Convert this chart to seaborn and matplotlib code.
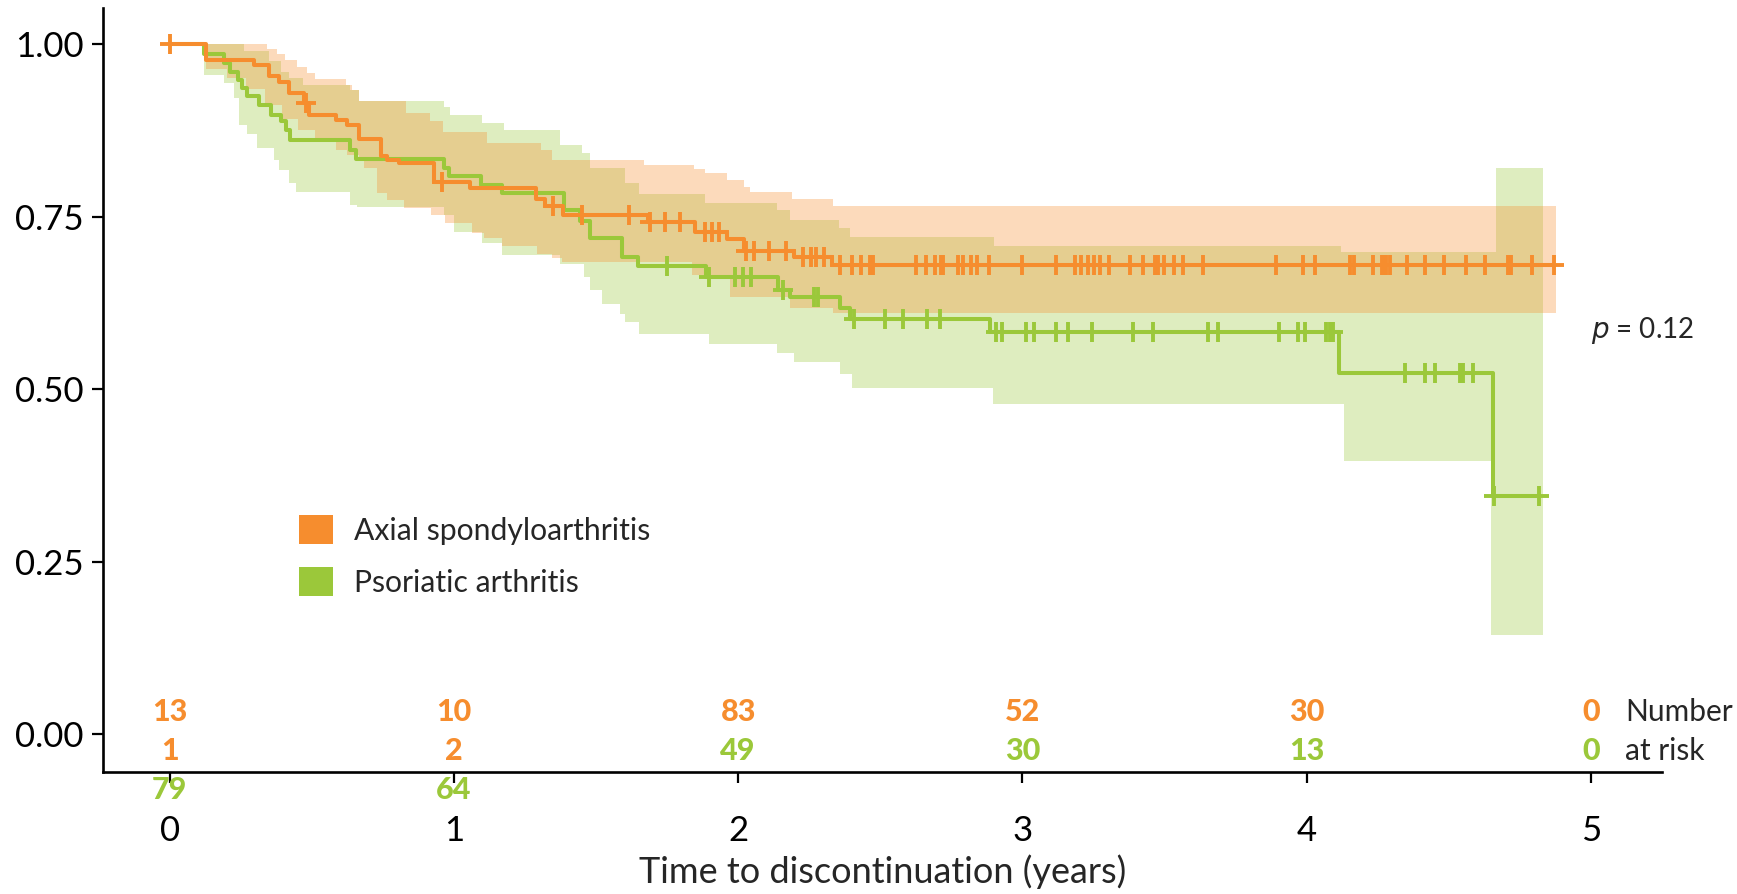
import numpy as np
import pandas as pd
import matplotlib
matplotlib.use("Agg")
import matplotlib.pyplot as plt
from matplotlib.patches import Patch
import seaborn as sns

# ---------------- data ----------------
GROUPS = ["Axial spondyloarthritis", "Psoriatic arthritis"]

# Kaplan-Meier steps (time in years, survival)
AX_T = [0, 0.127, 0.297, 0.349, 0.384, 0.42, 0.472, 0.49, 0.584, 0.625, 0.666, 0.742, 0.765,
        0.806, 0.929, 1.058, 1.29, 1.32, 1.385, 1.683, 1.85, 1.962, 2.02, 2.195, 2.331]
AX_S = [1.0, 0.976, 0.970, 0.953, 0.945, 0.929, 0.915, 0.897, 0.89, 0.883, 0.863, 0.837, 0.832,
        0.827, 0.80, 0.791, 0.775, 0.765, 0.752, 0.742, 0.727, 0.718, 0.70, 0.692, 0.68]
AX_END = 4.872

PS_T = [0, 0.121, 0.191, 0.214, 0.24, 0.255, 0.273, 0.314, 0.355, 0.39, 0.408, 0.425, 0.636,
        0.654, 0.965, 0.982, 1.094, 1.17, 1.387, 1.445, 1.48, 1.592, 1.647, 1.888, 2.142, 2.182,
        2.357, 2.392, 2.887, 4.115, 4.655]
PS_S = [1.0, 0.986, 0.972, 0.96, 0.948, 0.936, 0.924, 0.912, 0.897, 0.888, 0.875, 0.861, 0.847,
        0.834, 0.82, 0.809, 0.796, 0.784, 0.76, 0.743, 0.719, 0.692, 0.678, 0.663, 0.644, 0.634,
        0.617, 0.601, 0.583, 0.524, 0.345]
PS_END = 4.819

# confidence bands (step functions)
AX_UP_T = [0, 0.343, 0.378, 0.407, 0.448, 0.482, 0.513, 0.619, 0.64, 0.666, 0.83, 0.917, 0.96,
           1.117, 1.305, 1.345, 1.668, 1.844, 1.885, 1.961, 2.02, 2.043, 2.19, 2.335]
AX_UP_S = [1.0, 0.993, 0.986, 0.977, 0.967, 0.958, 0.949, 0.941, 0.933, 0.918, 0.90, 0.888, 0.873,
           0.856, 0.847, 0.832, 0.825, 0.819, 0.813, 0.803, 0.793, 0.785, 0.775, 0.766]
AX_LO_T = [0, 0.127, 0.2, 0.27, 0.334, 0.394, 0.45, 0.513, 0.584, 0.625, 0.666, 0.683, 0.73,
           0.765, 0.824, 0.92, 0.97, 1.064, 1.105, 1.17, 1.293, 1.345, 1.381, 1.838, 1.97, 2.182, 2.335]
AX_LO_S = [1.0, 0.963, 0.95, 0.935, 0.912, 0.891, 0.875, 0.858, 0.846, 0.839, 0.83, 0.82, 0.784,
           0.774, 0.762, 0.752, 0.74, 0.726, 0.719, 0.707, 0.696, 0.69, 0.684, 0.666, 0.634, 0.618, 0.611]
AX_BAND_END = 4.878

PS_UP_T = [0, 0.26, 0.35, 0.39, 0.42, 0.47, 0.636, 0.665, 0.965, 0.988, 1.099, 1.175, 1.375,
           1.451, 1.48, 1.603, 1.65, 1.883, 2.135, 2.182, 2.355, 2.395, 2.90, 4.12, 4.668]
PS_UP_S = [1.0, 0.99, 0.975, 0.96, 0.95, 0.94, 0.933, 0.918, 0.909, 0.897, 0.885, 0.875, 0.854,
           0.842, 0.82, 0.798, 0.782, 0.770, 0.759, 0.745, 0.733, 0.721, 0.707, 0.699, 0.82]
PS_LO_T = [0, 0.121, 0.191, 0.226, 0.244, 0.273, 0.306, 0.367, 0.384, 0.42, 0.443, 0.636, 0.66,
           0.965, 1.0, 1.099, 1.17, 1.375, 1.457, 1.48, 1.52, 1.586, 1.603, 1.65, 1.896, 2.135,
           2.195, 2.357, 2.401, 2.896, 4.13, 4.65]
PS_LO_S = [1.0, 0.955, 0.943, 0.921, 0.883, 0.87, 0.849, 0.832, 0.818, 0.798, 0.786, 0.767, 0.764,
           0.752, 0.728, 0.711, 0.694, 0.682, 0.663, 0.644, 0.623, 0.609, 0.598, 0.58, 0.566, 0.552,
           0.539, 0.522, 0.502, 0.478, 0.396, 0.144]
PS_BAND_END = 4.833

# censoring times
AX_CENS = [0.0, 0.478, 0.958, 1.35, 1.45, 1.617, 1.69, 1.743, 1.796, 1.883, 1.909, 1.932, 2.029,
           2.056, 2.109, 2.169, 2.228, 2.255, 2.275, 2.301, 2.357, 2.401, 2.434, 2.464, 2.474,
           2.627, 2.66, 2.694, 2.714, 2.72, 2.774, 2.79, 2.82, 2.84, 2.884, 3.0, 3.12, 3.186,
           3.208, 3.232, 3.252, 3.272, 3.305, 3.378, 3.425, 3.465, 3.478, 3.498, 3.532, 3.565,
           3.634, 3.891, 3.987, 4.029, 4.154, 4.167, 4.233, 4.266, 4.273, 4.279, 4.293, 4.352,
           4.418, 4.483, 4.562, 4.628, 4.707, 4.72, 4.793, 4.872]
PS_CENS = [1.75, 1.896, 1.989, 2.016, 2.046, 2.158, 2.268, 2.282, 2.408, 2.517, 2.581, 2.663,
           2.711, 2.907, 2.927, 3.013, 3.04, 3.12, 3.16, 3.246, 3.39, 3.458, 3.654, 3.687, 3.904,
           3.97, 3.996, 4.069, 4.082, 4.092, 4.345, 4.418, 4.451, 4.54, 4.549, 4.585, 4.661, 4.819]

# number at risk
RISK_TIMES = [0, 1, 2, 3, 4, 5]
AX_RISK = [131, 102, 83, 52, 30, 0]
PS_RISK = [79, 64, 49, 30, 13, 0]

Y_TICKS = [0.0, 0.25, 0.5, 0.75, 1.0]
X_TICKS = [0, 1, 2, 3, 4, 5]
P_TEXT = "0.12"

ORANGE = "#F68D2E"
GREEN = "#9BC83A"

# ---------------- style ----------------
sns.set_theme(style="ticks")
plt.rcParams["font.family"] = ["Lato", "DejaVu Sans"]

fig = plt.figure(figsize=(17.37, 8.94), dpi=100)
ax = fig.add_axes([0.0593, 0.1364, 0.8973, 0.8544])


def step_value(T, S, t):
    i = np.searchsorted(np.asarray(T), np.asarray(t), side="right") - 1
    return np.asarray(S)[i]


def band(T_up, S_up, T_lo, S_lo, end, color):
    grid = np.unique(np.concatenate([T_up, T_lo, [end]]))
    up = step_value(T_up, S_up, grid)
    lo = step_value(T_lo, S_lo, grid)
    ax.fill_between(grid, lo, up, step="post", color=color, alpha=0.32, linewidth=0)


band(PS_UP_T, PS_UP_S, PS_LO_T, PS_LO_S, PS_BAND_END, GREEN)
band(AX_UP_T, AX_UP_S, AX_LO_T, AX_LO_S, AX_BAND_END, ORANGE)

for T, S, end, color, cens in [(PS_T, PS_S, PS_END, GREEN, PS_CENS),
                               (AX_T, AX_S, AX_END, ORANGE, AX_CENS)]:
    df = pd.DataFrame({"t": list(T) + [end], "s": list(S) + [S[-1]]})
    sns.lineplot(data=df, x="t", y="s", ax=ax, color=color, lw=2.9,
                 drawstyle="steps-post", estimator=None, sort=False)
    cy = step_value(T, S, cens)
    ax.plot(cens, cy, ls="none", marker="+", ms=15, mew=2.8, color=color)

# axes
ax.set_xlim(-0.2345, 5.249)
ax.set_ylim(-0.0545, 1.0517)
ax.set_xticks(X_TICKS)
ax.set_xticklabels([str(v) for v in X_TICKS])
ax.set_yticks(Y_TICKS)
ax.set_yticklabels([f"{v:.2f}" for v in Y_TICKS])
for side in ["top", "right"]:
    ax.spines[side].set_visible(False)
for side in ["left", "bottom"]:
    ax.spines[side].set_linewidth(1.9)
    ax.spines[side].set_color("black")
ax.tick_params(axis="y", length=7.7, width=1.6, pad=6, labelsize=25, colors="black")
ax.tick_params(axis="x", length=8, width=1.6, pad=23, labelsize=25, colors="black")
ax.set_xlabel("Time to discontinuation (years)", fontsize=26, va="center")
ax.xaxis.set_label_coords(0.5, -0.1305)
ax.set_ylabel("")
ax.grid(False)

# number at risk (three-digit counts wrap onto the next row)
ROW_Y = [0.032, -0.024, -0.080]
for t, a, p in zip(RISK_TIMES, AX_RISK, PS_RISK):
    a_str = str(a)
    if len(a_str) > 2:
        rows = [(a_str[:2], ORANGE), (a_str[2:], ORANGE), (str(p), GREEN)]
    else:
        rows = [(a_str, ORANGE), (str(p), GREEN)]
    for (txt, col), y in zip(rows, ROW_Y):
        ax.text(t, y, txt, color=col, fontsize=22, fontweight="black",
                ha="center", va="center", clip_on=False)
ax.text(5.12, ROW_Y[0], "Number", fontsize=21.5, ha="left", va="center", clip_on=False)
ax.text(5.12, ROW_Y[1], "at risk", fontsize=21.5, ha="left", va="center", clip_on=False)

# p-value
ax.text(5.0, 0.585, r"$\it{p}$" + " = " + P_TEXT, fontsize=20, ha="left", va="center")

# legend
handles = [Patch(facecolor=ORANGE, edgecolor="none"), Patch(facecolor=GREEN, edgecolor="none")]
ax.legend(handles, GROUPS, loc="upper left", bbox_to_anchor=(0.126, 0.336), frameon=False,
          fontsize=21.7, handlelength=1.1, handleheight=1.1, handletextpad=0.7,
          labelspacing=0.72, borderpad=0, borderaxespad=0)

fig.savefig("out.png", dpi=100)
